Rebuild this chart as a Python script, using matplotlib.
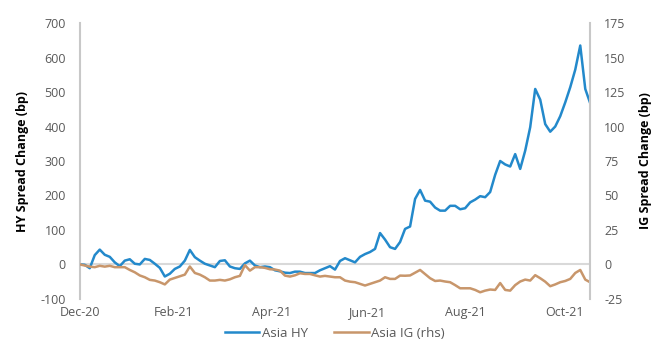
import numpy as np
import pandas as pd
import matplotlib
matplotlib.use('Agg')
import matplotlib.pyplot as plt

plt.rcParams['font.family'] = ['Open Sans', 'DejaVu Sans']
plt.rcParams['axes.unicode_minus'] = False

# spread change since end-2020, sampled roughly every 3 calendar days
start_date = '2020-12-31'
end_date = '2021-10-22'

asia_hy = [0, -1, -11, 27, 43, 28, 22, 6, -5, 11,
           15, 2, 0, 16, 13, 2, -10, -35, -27, -13,
           -6, 11, 42, 21, 11, 2, -3, -8, 10, 12,
           -6, -11, -13, 3, 11, -3, -8, -6, -8, -17,
           -20, -24, -25, -21, -21, -25, -25, -25, -17, -11,
           -5, -15, 10, 18, 12, 6, 22, 30, 36, 45,
           91, 72, 50, 45, 65, 103, 110, 190, 216, 185,
           182, 165, 156, 156, 170, 170, 160, 163, 180, 188,
           198, 195, 210, 260, 300, 290, 284, 320, 277, 330,
           398, 509, 478, 407, 385, 400, 430, 470, 514, 565,
           635, 509, 467]

asia_ig = [0, -0.8, -1.6, -2, -1, -1.6, -1, -2, -2, -2,
           -4, -5.7, -8, -9.3, -11.2, -11.7, -12.9, -14.5, -11, -9.8,
           -8.6, -7.4, -1.5, -6.2, -7.4, -9.3, -11.7, -11.7, -11.2, -11.7,
           -10.8, -9.3, -8.3, -0.5, -4.5, -2, -2, -2.5, -3.5, -3.7,
           -4.5, -8.1, -8.8, -7.9, -6.4, -6.9, -6.9, -7.9, -8.8, -8.3,
           -8.8, -9.3, -9.3, -11.7, -12.5, -12.9, -14.1, -15.3, -14.1, -12.9,
           -11.7, -9.3, -10.5, -10.5, -8.1, -8.2, -8, -6, -4, -7,
           -10, -12, -11.7, -12.4, -12.9, -15, -17.3, -17.3, -17.3, -18.5,
           -20.2, -19, -18.2, -18.5, -13.5, -18.5, -19, -15, -12.4, -11,
           -11.7, -7.8, -10, -12.5, -15.8, -14.5, -12.9, -12, -10.5, -6.2,
           -4, -11, -13]

tick_dates = ['2020-12-31', '2021-02-23', '2021-04-21',
              '2021-06-15', '2021-08-11', '2021-10-07']

dates = pd.date_range(start_date, end_date, periods=len(asia_hy))
ticks = pd.to_datetime(tick_dates)

hy_color = '#2389CB'
ig_color = '#C8966B'
grey_txt = '#595959'
axis_grey = '#C8C8C8'

fig, ax1 = plt.subplots(figsize=(6.7, 3.5), dpi=100)
fig.subplots_adjust(left=0.119, right=0.881, bottom=0.146, top=0.934)
ax2 = ax1.twinx()

ax1.axhline(0, color='#D9D9D9', lw=1.5, zorder=0)
l1, = ax1.plot(dates, asia_hy, color=hy_color, lw=1.8, label='Asia HY')
l2, = ax2.plot(dates, asia_ig, color=ig_color, lw=1.8, label='Asia IG (rhs)')

ax1.set_xlim(dates[0], dates[-1])
ax1.set_ylim(-100, 700)
ax2.set_ylim(-25, 175)
ax1.set_yticks(np.arange(-100, 701, 100))
ax2.set_yticks(np.arange(-25, 176, 25))
ax1.set_xticks(ticks)
ax1.set_xticklabels([d.strftime('%b-%y') for d in ticks])

for ax in (ax1, ax2):
    for s in ax.spines.values():
        s.set_visible(False)
    ax.tick_params(length=0, labelsize=9, colors=grey_txt)
ax1.spines['left'].set_visible(True)
ax1.spines['left'].set_color(axis_grey)
ax1.spines['left'].set_linewidth(1.5)
ax2.spines['right'].set_visible(True)
ax2.spines['right'].set_color(axis_grey)
ax2.spines['right'].set_linewidth(1.5)
ax1.tick_params(axis='y', pad=10)
ax2.tick_params(axis='y', pad=10)
ax1.tick_params(axis='x', pad=5)

ax1.set_ylabel('HY Spread Change (bp)', fontsize=9, fontweight='bold', color='black', labelpad=8)
ax2.set_ylabel('IG Spread Change (bp)', fontsize=9, fontweight='bold', color='black', labelpad=10)

fig.legend(handles=[l1, l2], loc='lower center', bbox_to_anchor=(0.5, -0.005), ncol=2,
           frameon=False, fontsize=9.5, handlelength=2.6, handletextpad=0.2, columnspacing=2.0,
           labelcolor=grey_txt)

fig.savefig('out.png', dpi=100)
